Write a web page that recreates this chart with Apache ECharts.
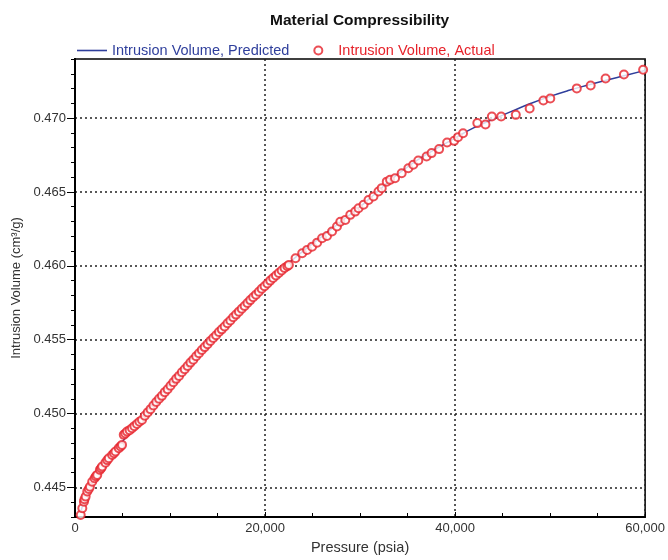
<!DOCTYPE html>
<html>
<head>
<meta charset="utf-8">
<script src="https://cdn.jsdelivr.net/npm/echarts@6/dist/echarts.min.js"></script>
<style>
html,body{margin:0;padding:0;background:#fff;}
#chart{width:668px;height:560px;}
</style>
</head>
<body>
<div id="chart"></div>
<script>
// ---- Data ----
var titleText = 'Material Compressibility';
var seriesNames = ['Intrusion Volume, Predicted', 'Intrusion Volume, Actual'];
var xAxisName = 'Pressure (psia)';
var yAxisName = 'Intrusion Volume (cm³/g)';

var xTickLabels = [0, 20000, 40000, 60000];
var yTickLabels = [0.445, 0.450, 0.455, 0.460, 0.465, 0.470];

var predictedPressure = [600, 1000, 1500, 2000, 3000, 4000, 5000, 6000, 7330, 8500, 10000, 12000, 14140, 16000, 18000, 20000, 22160, 24000, 26000, 28000, 30000, 31070, 32000, 33000, 35000, 37000, 40000, 42000, 44300, 46000, 48000, 50000, 52000, 54000, 56000, 58000, 60000];
var predictedVolume = [0.4433, 0.4442, 0.4450, 0.4456, 0.4465, 0.4473, 0.4481, 0.4490, 0.4500, 0.4509, 0.4520, 0.4535, 0.4550, 0.4562, 0.4575, 0.4588, 0.4600, 0.4610, 0.4620, 0.4630, 0.4640, 0.4646, 0.4651, 0.4657, 0.4667, 0.46755, 0.46865, 0.46935, 0.4700, 0.47047, 0.4710, 0.47147, 0.47188, 0.47224, 0.47258, 0.47290, 0.47323];

var actualPressure = [600, 770, 940, 1000, 1120, 1290, 1450, 1570, 1810, 2060, 2200, 2340, 2620, 2750, 2860, 3210, 3400, 3560, 3910, 4100, 4260, 4610, 4800, 4950, 5130, 5300, 5480, 5750, 6000, 6250, 6520, 6780,
  7050, 7350, 7650, 7950, 8250, 8550, 8850, 9150, 9450, 9750, 10050, 10350, 10650, 10950, 11250, 11550, 11850, 12150, 12450, 12750, 13050, 13350, 13650, 13950, 14250, 14550, 14850, 15150, 15450, 15750, 16050, 16350, 16650, 16950, 17250, 17550, 17850, 18150, 18450, 18750, 19050, 19350, 19650, 19950, 20250, 20550, 20850, 21150, 21450, 21750, 22050, 22350,
  22510, 23210, 23910, 24430, 24950, 25480, 26000, 26520, 27050, 27570, 27920, 28450, 28970, 29490, 29840, 30370, 30890, 31410, 31940, 32280, 32810, 33160, 33680, 34380, 35080, 35600,
  36130, 37000, 37530, 38320, 39160, 39900, 40310, 40840, 42340, 43200, 43870, 44850, 46390, 47850, 49290, 50020, 52810, 54270, 55840, 57770, 59790];
var actualVolume = [0.44314, 0.44359, 0.44404, 0.44420, 0.44438, 0.44472, 0.44490, 0.44505, 0.44539, 0.44562, 0.44575, 0.44585, 0.44619, 0.44630, 0.44641, 0.44668, 0.44685, 0.44698, 0.44720, 0.44732, 0.44743, 0.44766, 0.44778, 0.44788, 0.44856, 0.44865, 0.44878, 0.44888, 0.44901, 0.44915, 0.44930, 0.44945,
  0.44957, 0.44985, 0.45008, 0.45030, 0.45055, 0.45078, 0.45100, 0.45120, 0.45145, 0.45165, 0.45188, 0.45212, 0.45235, 0.45255, 0.45280, 0.45300, 0.45322, 0.45345, 0.45365, 0.45388, 0.45408, 0.45430, 0.45450, 0.45470, 0.45492, 0.45512, 0.45530, 0.45552, 0.45570, 0.45590, 0.45612, 0.45630, 0.45652, 0.45670, 0.45690, 0.45710, 0.45728, 0.45748, 0.45768, 0.45787, 0.45805, 0.45825, 0.45845, 0.45862, 0.45880, 0.45900, 0.45918, 0.45935, 0.45952, 0.45968, 0.45985, 0.45998,
  0.46006, 0.46051, 0.46085, 0.46108, 0.46130, 0.46157, 0.46187, 0.46202, 0.46232, 0.46266, 0.46299, 0.46311, 0.46345, 0.46367, 0.46390, 0.46413, 0.46446, 0.46469, 0.46503, 0.46526, 0.46570, 0.46582, 0.46593, 0.46627, 0.46661, 0.46684,
  0.46713, 0.46740, 0.46763, 0.46790, 0.46835, 0.46846, 0.46871, 0.46898, 0.46966, 0.46957, 0.47011, 0.47011, 0.47022, 0.47065, 0.47119, 0.47133, 0.47201, 0.47221, 0.47268, 0.47295, 0.47327];

// ---- Build ----
var predictedData = predictedPressure.map(function (p, i) { return [p, predictedVolume[i]]; });
var actualData = actualPressure.map(function (p, i) { return [p, actualVolume[i]]; });

var FONT = 'Liberation Sans, Arial, sans-serif';
var BLUE = '#2f3f9c';
var RED = '#e6222a';
var yMin = 0.443, yMax = 0.474;

var chart = echarts.init(document.getElementById('chart'), null, { renderer: 'canvas' });
chart.setOption({
  animation: false,
  backgroundColor: '#fff',
  textStyle: { fontFamily: FONT },
  title: {
    text: titleText,
    left: 265, top: 8,
    textStyle: { fontSize: 15.5, fontWeight: 'bold', color: '#111', fontFamily: FONT }
  },
  legend: {
    left: 72, top: 38,
    itemWidth: 30, itemHeight: 8, itemGap: 24,
    textStyle: { fontSize: 14.5, fontFamily: FONT },
    data: [
      { name: seriesNames[0], icon: 'path://M0,0 L30,0 L30,1.6 L0,1.6 Z', textStyle: { color: BLUE } },
      { name: seriesNames[1], textStyle: { color: RED } }
    ]
  },
  grid: {
    left: 75, right: 20, top: 59, bottom: 43,
    show: true, borderColor: '#000', borderWidth: 1.5, backgroundColor: 'transparent'
  },
  xAxis: {
    type: 'value', min: 0, max: 60000, interval: 20000,
    name: xAxisName, nameLocation: 'middle', nameGap: 23,
    nameTextStyle: { fontSize: 14.5, color: '#333', fontFamily: FONT },
    axisLine: { show: true, lineStyle: { color: '#000', width: 2 } },
    axisTick: { show: true, inside: true, length: 5, lineStyle: { color: '#000' } },
    minorTick: { show: true, splitNumber: 4, length: 4, lineStyle: { color: '#000' } },
    axisLabel: { fontSize: 13, color: '#333', margin: 5, fontFamily: FONT,
      formatter: function (v) { return v.toLocaleString('en-US'); } },
    splitLine: { show: true, lineStyle: { color: '#222', type: [2, 3], width: 1.5 } }
  },
  yAxis: [
    {
      type: 'value', min: yMin, max: yMax, interval: 0.001,
      axisLine: { show: true, lineStyle: { color: '#000', width: 2 } },
      axisTick: { show: true, length: 4, lineStyle: { color: '#000' } },
      axisLabel: { show: false },
      splitLine: { show: false }
    },
    {
      type: 'value', min: yMin, max: yMax, position: 'left',
      name: yAxisName, nameLocation: 'middle', nameGap: 50, nameRotate: 90,
      nameTextStyle: { fontSize: 13, color: '#333', fontFamily: FONT },
      axisLine: { show: true, lineStyle: { color: '#000', width: 2 } },
      axisTick: { show: true, length: 8, customValues: yTickLabels, lineStyle: { color: '#000' } },
      axisLabel: { fontSize: 13, color: '#333', margin: 9, fontFamily: FONT, customValues: yTickLabels,
        formatter: function (v) { return v.toFixed(3); } },
      splitLine: { show: true, lineStyle: { color: '#222', type: [2, 3], width: 1.5 } }
    }
  ],
  series: [
    {
      name: seriesNames[0], type: 'line', yAxisIndex: 0,
      data: predictedData, smooth: true, symbol: 'none', showSymbol: false,
      lineStyle: { color: BLUE, width: 1.5 }, itemStyle: { color: BLUE }, z: 2
    },
    {
      name: seriesNames[1], type: 'scatter', yAxisIndex: 0,
      data: actualData, symbol: 'emptyCircle', symbolSize: 8,
      itemStyle: { color: RED, borderColor: RED, borderWidth: 1.6 }, z: 3
    }
  ]
});
</script>
</body>
</html>
